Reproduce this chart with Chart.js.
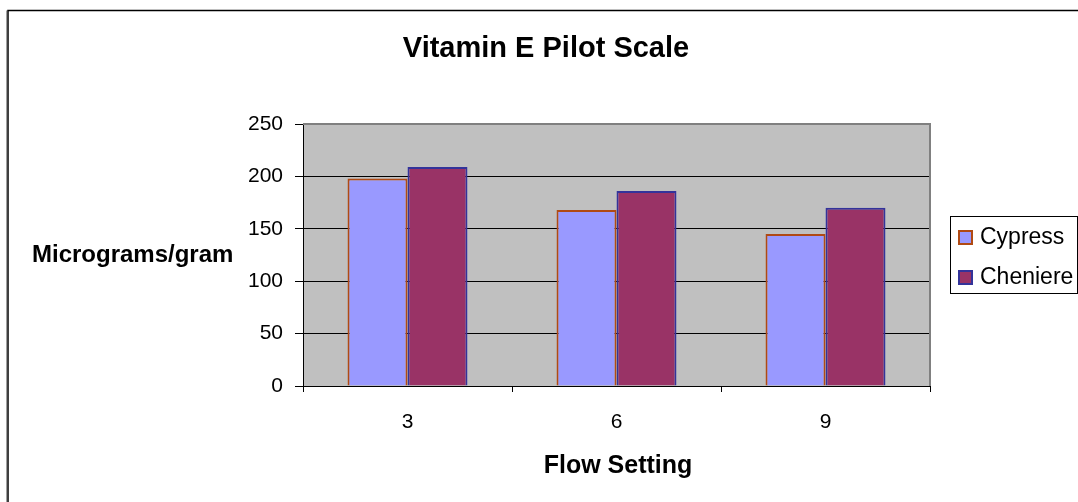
<!DOCTYPE html>
<html>
<head>
<meta charset="utf-8">
<title>Vitamin E Pilot Scale</title>
<script src="https://cdn.jsdelivr.net/npm/chart.js@4.4.0/dist/chart.umd.min.js"></script>
<style>
    body { margin: 0; background: #ffffff; }
    #grafico { display: block; }
</style>
</head>
<body>
<canvas id="grafico" width="1078" height="502"></canvas>
<script>
// dados
const flowSettings = ['3', '6', '9'];
const cypress = [198, 168, 145];
const cheniere = [209, 186, 170];
const yTicks = [0, 50, 100, 150, 200, 250];

const tituloGrafico = 'Vitamin E Pilot Scale';
const tituloEixoY = 'Micrograms/gram';
const tituloEixoX = 'Flow Setting';

const fonte = "'Liberation Sans', Arial, sans-serif";

// desenha moldura, fundo cinza, títulos e legenda
const pluginMoldura = {
    id: 'moldura',
    beforeDraw(chart) {
        const ctx = chart.ctx;
        const area = chart.chartArea;
        ctx.save();
        ctx.fillStyle = '#ffffff';
        ctx.fillRect(0, 0, chart.width, chart.height);
        // moldura externa
        ctx.strokeStyle = '#a0a0a0';
        ctx.lineWidth = 1;
        ctx.beginPath();
        ctx.moveTo(6.5, 520);
        ctx.lineTo(6.5, 10.5);
        ctx.stroke();
        ctx.strokeStyle = '#000000';
        ctx.lineWidth = 1.5;
        ctx.strokeRect(8, 10.5, 1200, 600);
        // fundo da área do gráfico
        ctx.fillStyle = '#c0c0c0';
        ctx.fillRect(area.left, area.top, area.right - area.left, area.bottom - area.top);
        ctx.restore();
    },
    afterDraw(chart) {
        const ctx = chart.ctx;
        const area = chart.chartArea;
        ctx.save();
        // borda cinza em cima e à direita
        ctx.strokeStyle = '#808080';
        ctx.lineWidth = 2;
        ctx.beginPath();
        ctx.moveTo(area.left, area.top);
        ctx.lineTo(area.right, area.top);
        ctx.lineTo(area.right, area.bottom);
        ctx.stroke();

        // títulos
        ctx.fillStyle = '#000000';
        ctx.textBaseline = 'alphabetic';
        ctx.textAlign = 'center';
        ctx.font = 'bold 29px ' + fonte;
        ctx.fillText(tituloGrafico, 546, 57);
        ctx.font = 'bold 25px ' + fonte;
        ctx.fillText(tituloEixoX, 618, 473);
        ctx.textAlign = 'left';
        ctx.font = 'bold 24px ' + fonte;
        ctx.fillText(tituloEixoY, 32, 262);

        // legenda
        ctx.fillStyle = '#ffffff';
        ctx.fillRect(950, 216, 127, 77);
        ctx.strokeStyle = '#000000';
        ctx.lineWidth = 1;
        ctx.strokeRect(950.5, 216.5, 127, 77);
        ctx.font = '23px ' + fonte;
        ctx.textBaseline = 'middle';
        chart.data.datasets.forEach(function (ds, i) {
            const y = 237 + i * 40;
            ctx.fillStyle = ds.backgroundColor;
            ctx.fillRect(959, y - 6, 13, 13);
            ctx.strokeStyle = ds.borderColor;
            ctx.lineWidth = 2;
            ctx.strokeRect(959, y - 6, 13, 13);
            ctx.fillStyle = '#000000';
            ctx.fillText(ds.label, 980, y + 1);
        });
        ctx.restore();
    }
};

const configGrafico = {
    type: 'bar',
    data: {
        labels: flowSettings,
        datasets: [{
            label: 'Cypress',
            data: cypress,
            backgroundColor: '#9999ff',
            borderColor: '#b04a14',
            borderWidth: 2,
            barPercentage: 1,
            categoryPercentage: 0.574
        }, {
            label: 'Cheniere',
            data: cheniere,
            backgroundColor: '#993366',
            borderColor: '#33339a',
            borderWidth: 2,
            barPercentage: 1,
            categoryPercentage: 0.574
        }]
    },
    options: {
        responsive: false,
        animation: false,
        layout: {
            padding: { top: 124, right: 148, bottom: 0, left: 0 }
        },
        plugins: {
            legend: { display: false },
            title: { display: false },
            tooltip: { enabled: false }
        },
        scales: {
            x: {
                offset: true,
                grid: {
                    display: true,
                    offset: true,
                    drawOnChartArea: false,
                    color: '#000000',
                    tickLength: 6
                },
                border: { color: '#000000', width: 1 },
                ticks: {
                    color: '#000000',
                    padding: 18,
                    font: { family: fonte, size: 21 }
                },
                afterFit(scale) {
                    scale.height = 502 - 386;
                }
            },
            y: {
                min: 0,
                max: 250,
                afterBuildTicks(scale) {
                    scale.ticks = yTicks.map(v => ({ value: v }));
                },
                grid: {
                    color: '#000000',
                    tickLength: 8,
                    lineWidth: 1
                },
                border: { color: '#000000', width: 1 },
                ticks: {
                    color: '#000000',
                    padding: 12,
                    font: { family: fonte, size: 21 }
                },
                afterFit(scale) {
                    scale.width = 303;
                }
            }
        }
    },
    plugins: [pluginMoldura]
};

let meuGrafico = new Chart(document.getElementById('grafico'), configGrafico);
</script>
</body>
</html>
